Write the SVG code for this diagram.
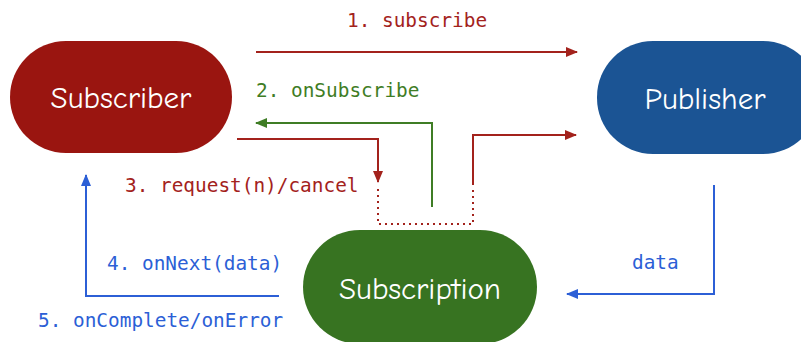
<svg xmlns="http://www.w3.org/2000/svg" width="801" height="342" viewBox="0 0 801 342">
  <style>
    .node-label { font-family: "Comic Neue", "Open Sans", "Noto Sans", sans-serif; font-size: 31px; fill: #ffffff; text-anchor: middle; }
    .msg { font-family: "DejaVu Sans Mono", "Liberation Mono", monospace; font-size: 19.4px; }
    .red { fill: #a3221c; }
    .green { fill: #3f7d25; }
    .blue { fill: #2c5fd6; }
    .line { fill: none; stroke-width: 2; }
    .l-red { stroke: #a3221c; }
    .l-green { stroke: #3f7d25; }
    .l-blue { stroke: #2c5fd6; }
    .dotted { stroke-dasharray: 2 4; }
  </style>
  <defs>
    <marker id="ah-red" viewBox="0 0 12 10" refX="11" refY="5" markerWidth="12" markerHeight="10" markerUnits="userSpaceOnUse" orient="auto">
      <path d="M0,0 L12,5 L0,10 z" fill="#a3221c"/>
    </marker>
    <marker id="ah-green" viewBox="0 0 12 10" refX="11" refY="5" markerWidth="12" markerHeight="10" markerUnits="userSpaceOnUse" orient="auto">
      <path d="M0,0 L12,5 L0,10 z" fill="#3f7d25"/>
    </marker>
    <marker id="ah-blue" viewBox="0 0 12 10" refX="11" refY="5" markerWidth="12" markerHeight="10" markerUnits="userSpaceOnUse" orient="auto">
      <path d="M0,0 L12,5 L0,10 z" fill="#2c5fd6"/>
    </marker>
  </defs>

  <rect width="801" height="342" fill="#ffffff"/>

  <g id="subscriber">
    <rect x="10" y="41" width="222" height="112" rx="56" fill="#9a1510"/>
    <text class="node-label" x="121" y="108">Subscriber</text>
  </g>

  <g id="publisher">
    <rect x="597" y="41" width="222" height="113" rx="56" fill="#1b5494"/>
    <text class="node-label" x="705" y="109">Publisher</text>
  </g>

  <g id="subscription">
    <rect x="303" y="230" width="234" height="114" rx="57" fill="#377321"/>
    <text class="node-label" x="420" y="299">Subscription</text>
  </g>

  <g id="connectors">
    <!-- 1. subscribe -->
    <path class="line l-red" d="M256,52 H577" marker-end="url(#ah-red)"/>
    <!-- 2. onSubscribe -->
    <path class="line l-green" d="M432,207 V123 H256" marker-end="url(#ah-green)"/>
    <!-- 3. request(n)/cancel -->
    <path class="line l-red" d="M237,139 H378 V182" marker-end="url(#ah-red)"/>
    <path class="line l-red dotted" d="M378,189 V224 H473 V186"/>
    <path class="line l-red" d="M473,185 V135 H576" marker-end="url(#ah-red)"/>
    <!-- data from publisher -->
    <path class="line l-blue" d="M714,185 V294 H567" marker-end="url(#ah-blue)"/>
    <!-- 4/5 signals back to subscriber -->
    <path class="line l-blue" d="M279,296 H86 V175" marker-end="url(#ah-blue)"/>
  </g>

  <g id="labels">
    <text class="msg red" x="347" y="27">1. subscribe</text>
    <text class="msg green" x="256" y="97">2. onSubscribe</text>
    <text class="msg red" x="125" y="192">3. request(n)/cancel</text>
    <text class="msg blue" x="107" y="270">4. onNext(data)</text>
    <text class="msg blue" x="38" y="327">5. onComplete/onError</text>
    <text class="msg blue" x="632" y="269">data</text>
  </g>
</svg>
